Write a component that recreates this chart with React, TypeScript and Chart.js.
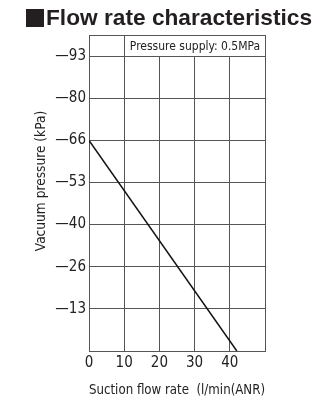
import React, { useEffect, useRef } from "react";
import { Chart, registerables } from "chart.js";

Chart.register(...registerables);

const titleText = "Flow rate characteristics";
const noteText = "Pressure supply: 0.5MPa";
const xAxisTitle = "Suction flow rate  (l/min(ANR)";
const yAxisTitle = "Vacuum pressure (kPa)";

const flowRate = [0, 42];
const vacuum = [66.67, 0];

const xTickValues = [0, 10, 20, 30, 40, 50];
const xTickLabels = ["0", "10", "20", "30", "40", ""];
const yTickValues = [0, 13.33, 26.67, 40, 53.33, 66.67, 80, 93.33, 100];
const yTickLabels = ["", "—13", "—26", "—40", "—53", "—66", "—80", "—93", ""];

const noteRange = { x0: 10, x1: 50, y0: 93.33, y1: 100 };

const NARROW = "'DejaVu Sans Condensed', 'Liberation Sans Narrow', sans-serif";
const GRID = "#555";

export default function App() {
  const ref = useRef<HTMLCanvasElement>(null);
  useEffect(() => {
    if (!ref.current) return;
    const deco = {
      id: "deco",
      beforeDatasetsDraw(chart: any) {
        const ctx = chart.ctx;
        const xs = chart.scales.x;
        const ys = chart.scales.y;
        const l = Math.round(xs.getPixelForValue(noteRange.x0)) + 0.5;
        const r = Math.round(xs.getPixelForValue(noteRange.x1)) + 0.5;
        const t = Math.round(ys.getPixelForValue(noteRange.y1)) + 0.5;
        const b = Math.round(ys.getPixelForValue(noteRange.y0)) + 0.5;
        ctx.save();
        ctx.fillStyle = "#fff";
        ctx.fillRect(l, t, r - l, b - t);
        ctx.strokeStyle = GRID;
        ctx.lineWidth = 1;
        ctx.strokeRect(l, t, r - l, b - t);
        ctx.fillStyle = "#222";
        ctx.font = "12px " + NARROW;
        ctx.textAlign = "center";
        ctx.textBaseline = "middle";
        ctx.fillText(noteText, (l + r) / 2, (t + b) / 2 + 1);
        ctx.restore();
      },
      afterDraw(chart: any) {
        const ctx = chart.ctx;
        const ys = chart.scales.y;
        ctx.save();
        // title
        ctx.fillStyle = "#231f20";
        ctx.fillRect(26, 9, 18, 18);
        ctx.font = "bold 22.7px 'Liberation Sans', Arial, sans-serif";
        ctx.textAlign = "left";
        ctx.textBaseline = "middle";
        ctx.fillText(titleText, 46, 19);
        // y title
        ctx.translate(41, (ys.top + ys.bottom) / 2 - 12);
        ctx.rotate(-Math.PI / 2);
        ctx.font = "13.6px " + NARROW;
        ctx.textAlign = "center";
        ctx.fillStyle = "#222";
        ctx.fillText(yAxisTitle, 0, 0);
        ctx.restore();
      },
    };
    const chart = new Chart(ref.current, {
      type: "scatter",
      data: {
        datasets: [
          {
            data: flowRate.map((x, i) => ({ x, y: vacuum[i] })),
            showLine: true,
            borderColor: "#111",
            borderWidth: 1.5,
            pointRadius: 0,
            fill: false,
          },
        ],
      },
      options: {
        responsive: false,
        animation: false,
        layout: { padding: { left: 0, right: 51, top: 35, bottom: 0 } },
        plugins: { legend: { display: false }, tooltip: { enabled: false } },
        scales: {
          x: {
            type: "linear",
            min: 0,
            max: 50,
            afterBuildTicks: (s: any) => {
              s.ticks = xTickValues.map((v) => ({ value: v }));
            },
            afterFit: (s: any) => {
              s.height = 48;
            },
            ticks: {
              callback: (v: any) => xTickLabels[xTickValues.indexOf(Number(v))] ?? "",
              font: { size: 15, family: NARROW },
              color: "#222",
              padding: 3,
              maxRotation: 0,
              autoSkip: false,
            },
            grid: { color: GRID, drawTicks: false, lineWidth: 1 },
            border: { color: GRID },
            title: {
              display: true,
              text: xAxisTitle,
              font: { size: 14.6, family: NARROW },
              color: "#222",
              padding: { top: 2, bottom: 0 },
            },
          },
          y: {
            type: "linear",
            min: 0,
            max: 100,
            afterBuildTicks: (s: any) => {
              s.ticks = yTickValues.map((v) => ({ value: v }));
            },
            afterFit: (s: any) => {
              s.width = 89;
            },
            ticks: {
              callback: (v: any) => yTickLabels[yTickValues.indexOf(Number(v))] ?? "",
              font: { size: 15, family: NARROW },
              color: "#222",
              padding: 3,
              autoSkip: false,
            },
            grid: { color: GRID, drawTicks: false, lineWidth: 1 },
            border: { color: GRID },
          },
        },
      },
      plugins: [deco],
    } as any);
    return () => chart.destroy();
  }, []);
  return (
    <div style={{ position: "fixed", left: 0, top: 0, width: 316, height: 399, background: "#fff" }}>
      <canvas ref={ref} width={316} height={399} style={{ width: 316, height: 399 }} />
    </div>
  );
}
